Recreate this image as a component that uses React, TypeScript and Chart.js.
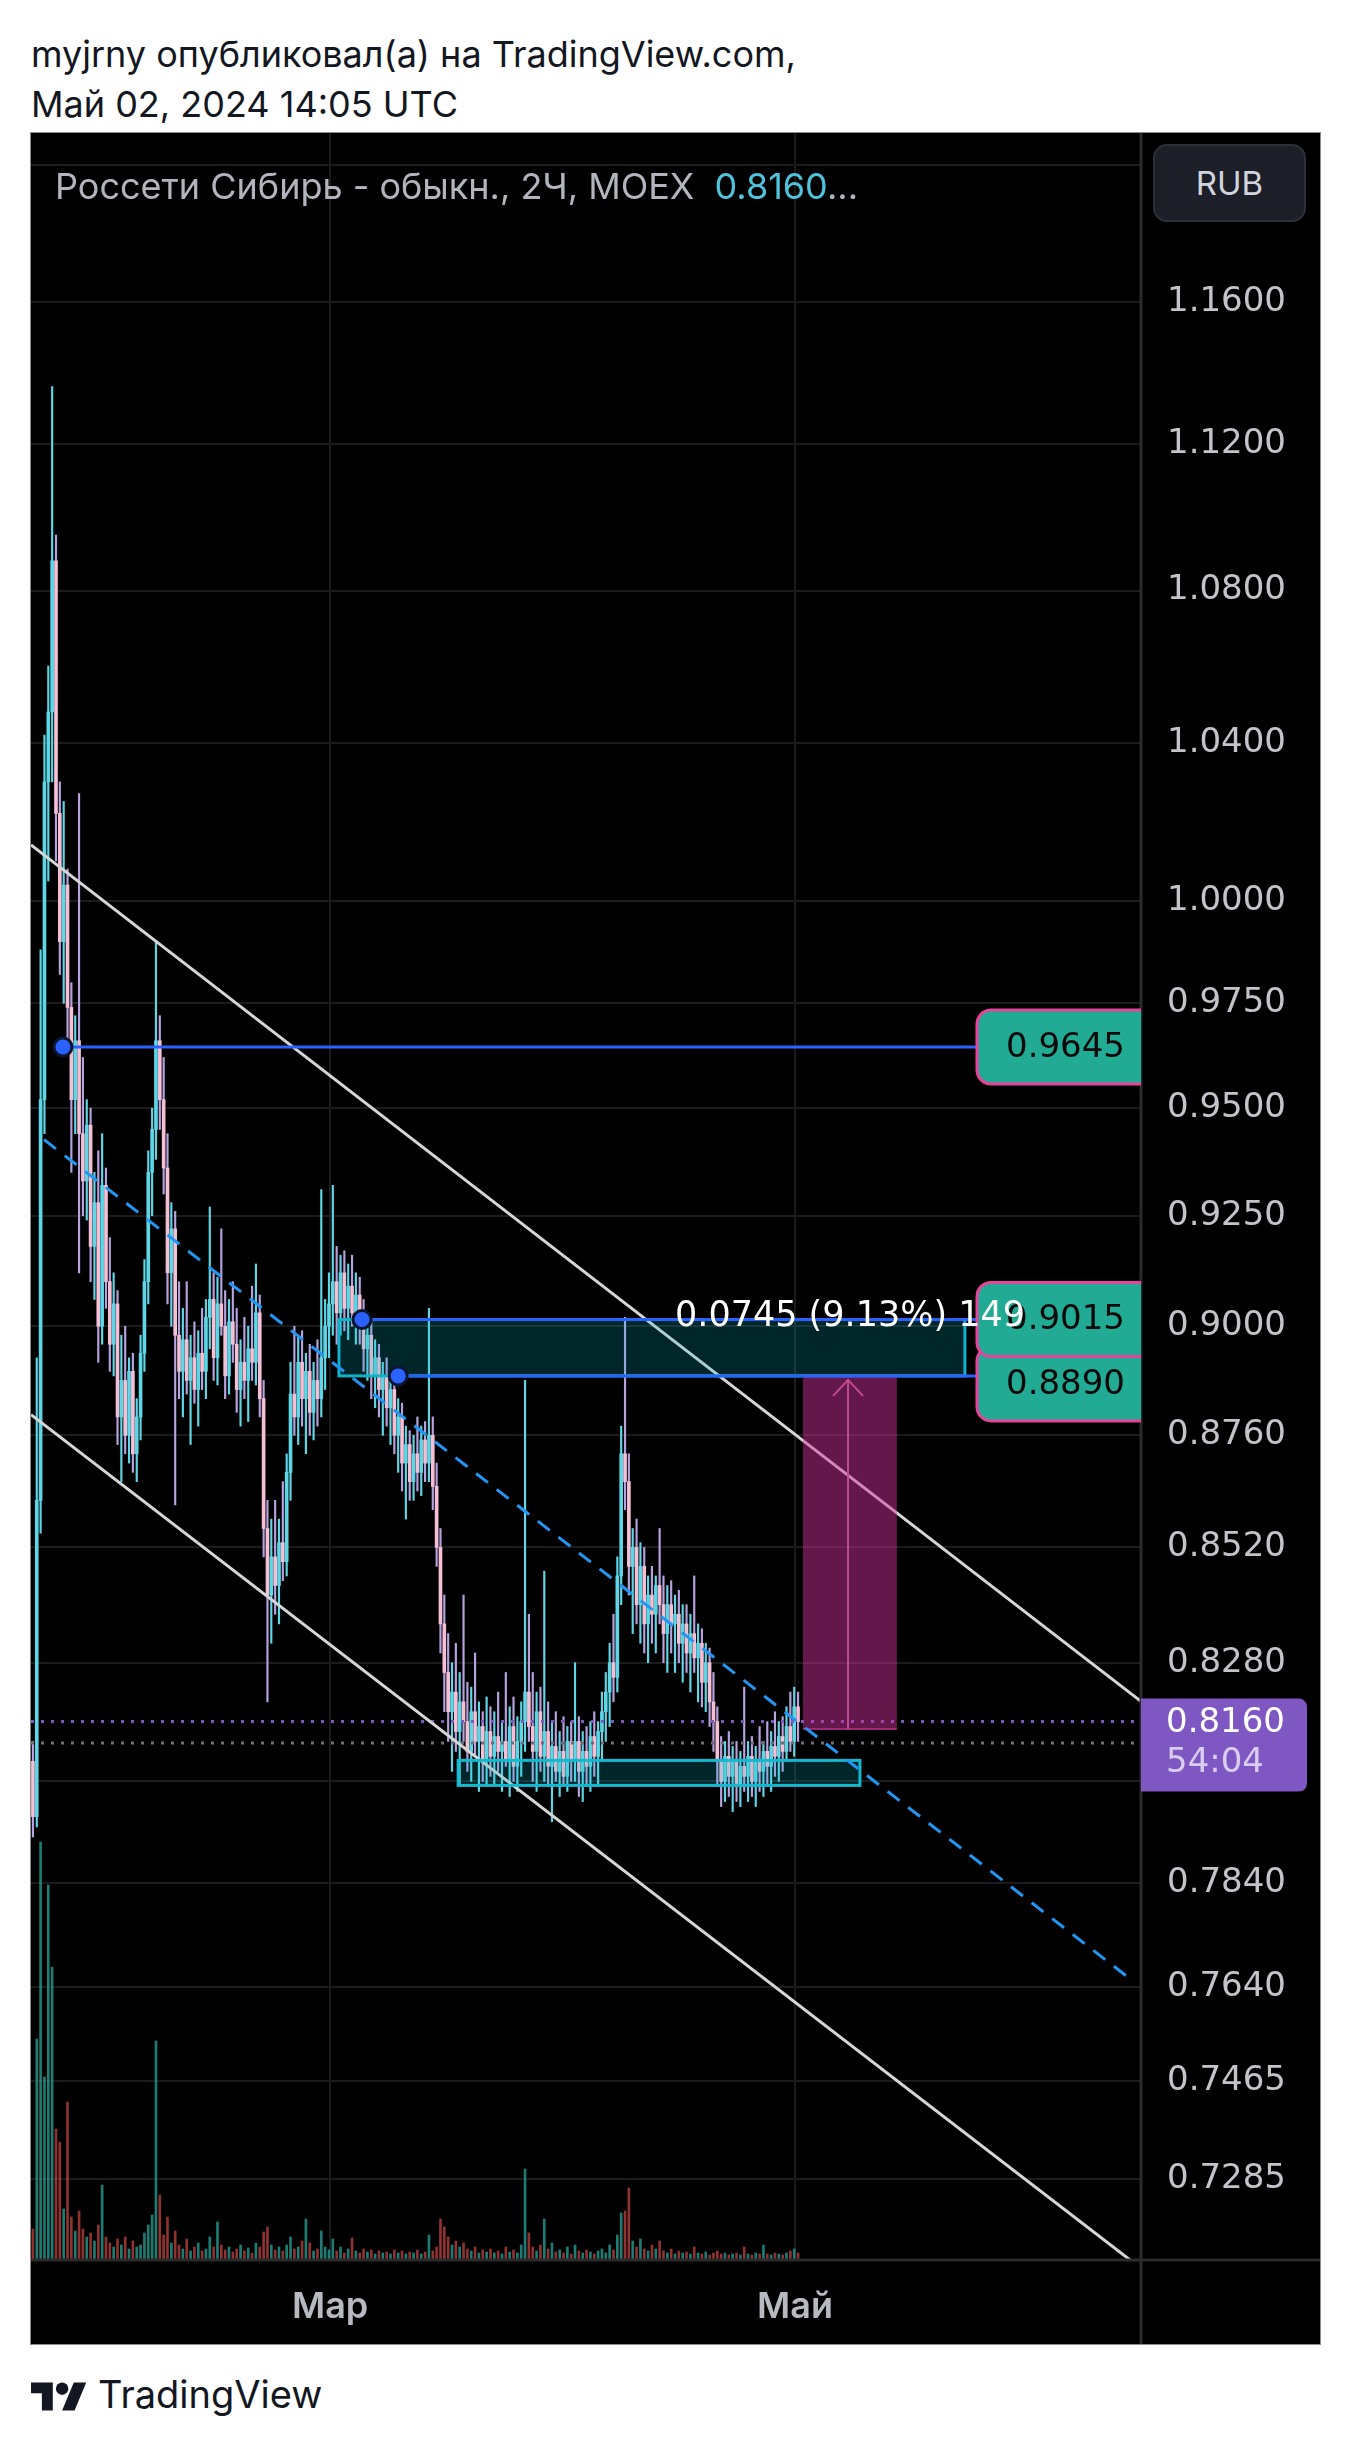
import React, { useEffect, useRef } from 'react';
import { Chart, registerables } from 'chart.js';

Chart.register(...registerables);

// ---- candle data (2H bars, index = bar number) ----
const OPEN = [
  0.808, 0.797, 0.862, 0.952, 1.030, 1.048, 1.088, 1.022, 0.990, 1.004,
  0.974, 0.952, 0.966, 0.944, 0.933, 0.946, 0.918, 0.928, 0.900, 0.932,
  0.910, 0.896, 0.905, 0.880, 0.888, 0.876, 0.890, 0.872, 0.880, 0.894,
  0.910, 0.935, 0.945, 0.966, 0.952, 0.936, 0.912, 0.922, 0.898, 0.890,
  0.897, 0.888, 0.893, 0.886, 0.894, 0.890, 0.902, 0.906, 0.893, 0.905,
  0.900, 0.889, 0.901, 0.896, 0.886, 0.892, 0.888, 0.895, 0.892, 0.903,
  0.884, 0.856, 0.842, 0.850, 0.844, 0.853, 0.849, 0.868, 0.885, 0.880,
  0.892, 0.884, 0.890, 0.881, 0.888, 0.884, 0.893, 0.900, 0.905, 0.910,
  0.903, 0.912, 0.904, 0.909, 0.903, 0.907, 0.901, 0.895, 0.898, 0.889,
  0.893, 0.886, 0.889, 0.882, 0.886, 0.876, 0.880, 0.870, 0.874, 0.866,
  0.872, 0.868, 0.875, 0.870, 0.876, 0.865, 0.852, 0.836, 0.826, 0.818,
  0.822, 0.814, 0.820, 0.816, 0.810, 0.818, 0.812, 0.815, 0.808, 0.814,
  0.809, 0.813, 0.810, 0.812, 0.808, 0.815, 0.807, 0.812, 0.816, 0.822,
  0.815, 0.810, 0.818, 0.809, 0.814, 0.807, 0.811, 0.806, 0.810, 0.805,
  0.812, 0.808, 0.812, 0.806, 0.810, 0.807, 0.813, 0.809, 0.814, 0.818,
  0.822, 0.828, 0.825, 0.846, 0.872, 0.866, 0.848, 0.852, 0.840, 0.848,
  0.836, 0.842, 0.838, 0.844, 0.840, 0.834, 0.840, 0.836, 0.838, 0.832,
  0.836, 0.830, 0.834, 0.829, 0.832, 0.824, 0.828, 0.820, 0.816, 0.808,
  0.804, 0.809, 0.805, 0.808, 0.803, 0.807, 0.805, 0.809, 0.804, 0.808,
  0.806, 0.810, 0.807, 0.811, 0.809, 0.813, 0.810, 0.815, 0.812, 0.819,
];
const HIGH = [
  0.812, 0.893, 0.988, 1.042, 1.060, 1.136, 1.095, 1.030, 1.025, 1.008,
  0.980, 0.972, 1.027, 0.962, 0.952, 0.950, 0.935, 0.940, 0.944, 0.936,
  0.920, 0.912, 0.908, 0.898, 0.900, 0.893, 0.894, 0.884, 0.898, 0.915,
  0.940, 0.950, 0.990, 0.972, 0.962, 0.944, 0.928, 0.926, 0.910, 0.904,
  0.910, 0.898, 0.901, 0.899, 0.904, 0.906, 0.927, 0.912, 0.911, 0.922,
  0.908, 0.906, 0.910, 0.904, 0.897, 0.902, 0.900, 0.909, 0.914, 0.907,
  0.888, 0.862, 0.858, 0.862, 0.858, 0.866, 0.872, 0.892, 0.900, 0.898,
  0.899, 0.894, 0.896, 0.892, 0.897, 0.931, 0.906, 0.912, 0.932, 0.918,
  0.916, 0.917, 0.914, 0.916, 0.912, 0.911, 0.906, 0.903, 0.901, 0.897,
  0.896, 0.892, 0.893, 0.890, 0.889, 0.884, 0.883, 0.878, 0.877, 0.876,
  0.880, 0.878, 0.879, 0.904, 0.880, 0.870, 0.856, 0.842, 0.834, 0.828,
  0.832, 0.826, 0.842, 0.824, 0.823, 0.830, 0.820, 0.818, 0.821, 0.819,
  0.818, 0.822, 0.816, 0.826, 0.819, 0.821, 0.817, 0.820, 0.888, 0.838,
  0.826, 0.822, 0.823, 0.847, 0.820, 0.816, 0.818, 0.814, 0.817, 0.815,
  0.816, 0.828, 0.817, 0.814, 0.815, 0.816, 0.818, 0.816, 0.822, 0.826,
  0.832, 0.838, 0.850, 0.878, 0.902, 0.872, 0.856, 0.858, 0.853, 0.852,
  0.846, 0.848, 0.846, 0.856, 0.846, 0.844, 0.845, 0.842, 0.843, 0.840,
  0.840, 0.838, 0.846, 0.836, 0.835, 0.832, 0.831, 0.826, 0.819, 0.813,
  0.812, 0.814, 0.811, 0.812, 0.810, 0.823, 0.812, 0.813, 0.811, 0.815,
  0.812, 0.816, 0.814, 0.818, 0.816, 0.817, 0.819, 0.822, 0.823, 0.822,
];
const LOW = [
  0.793, 0.795, 0.855, 0.944, 1.005, 1.030, 1.010, 0.982, 0.975, 0.966,
  0.935, 0.944, 0.912, 0.925, 0.924, 0.910, 0.906, 0.892, 0.896, 0.904,
  0.890, 0.889, 0.874, 0.866, 0.872, 0.870, 0.868, 0.866, 0.875, 0.890,
  0.905, 0.925, 0.938, 0.945, 0.930, 0.905, 0.900, 0.861, 0.884, 0.880,
  0.885, 0.874, 0.883, 0.878, 0.886, 0.884, 0.895, 0.888, 0.887, 0.898,
  0.884, 0.885, 0.892, 0.881, 0.878, 0.884, 0.879, 0.888, 0.887, 0.880,
  0.850, 0.820, 0.832, 0.838, 0.836, 0.845, 0.846, 0.862, 0.876, 0.874,
  0.878, 0.872, 0.876, 0.875, 0.878, 0.880, 0.886, 0.893, 0.898, 0.896,
  0.898, 0.899, 0.897, 0.900, 0.896, 0.896, 0.890, 0.888, 0.884, 0.882,
  0.880, 0.876, 0.878, 0.874, 0.872, 0.868, 0.864, 0.858, 0.862, 0.862,
  0.864, 0.863, 0.866, 0.866, 0.860, 0.848, 0.830, 0.818, 0.812, 0.806,
  0.810, 0.803, 0.812, 0.806, 0.804, 0.809, 0.802, 0.804, 0.803, 0.805,
  0.803, 0.806, 0.802, 0.807, 0.801, 0.804, 0.802, 0.805, 0.810, 0.812,
  0.804, 0.802, 0.806, 0.804, 0.803, 0.796, 0.804, 0.801, 0.803, 0.802,
  0.804, 0.804, 0.801, 0.800, 0.803, 0.802, 0.805, 0.803, 0.808, 0.812,
  0.815, 0.820, 0.822, 0.840, 0.860, 0.842, 0.834, 0.836, 0.832, 0.830,
  0.828, 0.832, 0.830, 0.836, 0.828, 0.826, 0.830, 0.826, 0.828, 0.824,
  0.826, 0.822, 0.826, 0.820, 0.819, 0.818, 0.815, 0.810, 0.803, 0.799,
  0.800, 0.801, 0.798, 0.800, 0.799, 0.802, 0.800, 0.801, 0.799, 0.802,
  0.801, 0.803, 0.802, 0.805, 0.804, 0.806, 0.808, 0.810, 0.809, 0.812,
];
const CLOSE = [
  0.797, 0.862, 0.952, 1.030, 1.048, 1.088, 1.022, 0.990, 1.004, 0.974,
  0.952, 0.966, 0.944, 0.933, 0.946, 0.918, 0.928, 0.900, 0.932, 0.910,
  0.896, 0.905, 0.880, 0.888, 0.876, 0.890, 0.872, 0.880, 0.894, 0.910,
  0.935, 0.945, 0.966, 0.952, 0.936, 0.912, 0.922, 0.898, 0.890, 0.897,
  0.888, 0.893, 0.886, 0.894, 0.890, 0.902, 0.906, 0.893, 0.905, 0.900,
  0.889, 0.901, 0.896, 0.886, 0.892, 0.888, 0.895, 0.892, 0.903, 0.884,
  0.856, 0.842, 0.850, 0.844, 0.853, 0.849, 0.868, 0.885, 0.880, 0.892,
  0.884, 0.890, 0.881, 0.888, 0.884, 0.893, 0.900, 0.905, 0.910, 0.903,
  0.912, 0.904, 0.909, 0.903, 0.907, 0.901, 0.895, 0.898, 0.889, 0.893,
  0.886, 0.889, 0.882, 0.886, 0.876, 0.880, 0.870, 0.874, 0.866, 0.872,
  0.868, 0.875, 0.870, 0.876, 0.865, 0.852, 0.836, 0.826, 0.818, 0.822,
  0.814, 0.820, 0.816, 0.810, 0.818, 0.812, 0.815, 0.808, 0.814, 0.809,
  0.813, 0.810, 0.812, 0.808, 0.815, 0.807, 0.812, 0.816, 0.822, 0.815,
  0.810, 0.818, 0.809, 0.814, 0.807, 0.811, 0.806, 0.810, 0.805, 0.812,
  0.808, 0.812, 0.806, 0.810, 0.807, 0.813, 0.809, 0.814, 0.818, 0.822,
  0.828, 0.825, 0.846, 0.872, 0.866, 0.848, 0.852, 0.840, 0.848, 0.836,
  0.842, 0.838, 0.844, 0.840, 0.834, 0.840, 0.836, 0.838, 0.832, 0.836,
  0.830, 0.834, 0.829, 0.832, 0.824, 0.828, 0.820, 0.816, 0.808, 0.804,
  0.809, 0.805, 0.808, 0.803, 0.807, 0.805, 0.809, 0.804, 0.808, 0.806,
  0.810, 0.807, 0.811, 0.809, 0.813, 0.810, 0.815, 0.812, 0.819, 0.816,
];
const VOLUME = [
  30, 220, 417, 182, 374, 292, 130, 117, 50, 157,
  42, 28, 48, 30, 22, 26, 18, 34, 74, 22,
  16, 12, 20, 14, 22, 10, 18, 12, 14, 26,
  34, 44, 218, 64, 24, 42, 16, 28, 14, 10,
  20, 8, 12, 16, 8, 10, 22, 12, 37, 14,
  9, 12, 7, 10, 14, 8, 11, 6, 16, 12,
  27, 32, 14, 9, 12, 8, 14, 22, 10, 12,
  18, 40, 16, 8, 10, 28, 12, 9, 20, 8,
  12, 6, 10, 21, 8, 6, 10, 7, 9, 5,
  8, 6, 7, 5, 9, 6, 8, 5, 7, 6,
  9, 5, 7, 24, 8, 12, 40, 32, 22, 14,
  18, 12, 16, 10, 8, 12, 6, 9, 7, 10,
  6, 8, 5, 12, 7, 9, 6, 14, 90, 26,
  12, 8, 14, 40, 10, 16, 7, 9, 6, 12,
  5, 14, 8, 6, 9, 7, 5, 8, 10, 6,
  14, 9, 24, 46, 48, 71, 18, 12, 20, 10,
  8, 14, 10, 18, 8, 6, 10, 5, 8, 6,
  7, 5, 12, 6, 5, 7, 4, 6, 8, 5,
  6, 4, 5, 6, 4, 12, 5, 4, 6, 5,
  14, 5, 4, 6, 5, 4, 6, 8, 10, 6,
];

// ---- axes ----
const PRICE_TICKS = [1.2, 1.16, 1.12, 1.08, 1.04, 1.0, 0.975, 0.95, 0.925, 0.9, 0.876, 0.852, 0.828, 0.804, 0.784, 0.764, 0.7465, 0.7285];
const TIME_TICKS = [77.3, 198.2];
const TIME_LABELS = ['Мар', 'Май'];
const Y_MIN = 0.71425;
const Y_MAX = 1.2097;
const X_MIN = -0.5;
const X_MAX = 288.2;
const VOL_MAX = 2126;

// ---- drawings (bar index, price) ----
const CHANNEL_UPPER = [[-0.5, 1.01405], [288.2, 0.8201]];
const CHANNEL_LOWER = [[-0.5, 0.8805], [288.2, 0.7126]];
const TREND_DASHED = [[2.9, 0.9426], [286.1, 0.7652]];
const LEVELS = [
  { x: 7.8, price: 0.9645, label: '0.9645', shift: 0 },
  { x: 85.6, price: 0.9015, label: '0.9015', shift: 0 },
  { x: 95.0, price: 0.889, label: '0.8890', shift: 8 },
];
const RANGE_BOX = { x1: 79.6, x2: 242.4, top: 0.9015, bottom: 0.889 };
const SUPPORT_BOX = { x1: 110.6, x2: 215.1, top: 0.8082, bottom: 0.8032 };
const TARGET_BOX = { x1: 200.3, x2: 224.7, top: 0.889, bottom: 0.8145, arrowX: 212 };
const MEASURE = { x: 167, price: 0.9015, text: '0.0745 (9.13%) 149' };
const LAST_PRICE = 0.816;
const LAST_PRICE_TEXT = '0.8160';
const COUNTDOWN = '54:04';
const PREV_CLOSE = 0.8117;

const UP = '#5dd6e6';
const DOWN = '#f5bfd6';
const DOWN_WICK = '#b7a2e0';
const VOL_UP = 'rgba(38,166,154,0.75)';
const VOL_DOWN = 'rgba(239,83,80,0.6)';
const AXIS_FONT = '"DejaVu Sans"';

export default function App() {
  const canvasRef = useRef<HTMLCanvasElement | null>(null);

  useEffect(() => {
    const idx = CLOSE.map((_, i) => i);
    const isUp = idx.map((i) => CLOSE[i] >= OPEN[i]);

    const leftRound = (ctx: any, x1: number, y1: number, x2: number, y2: number, r: number) => {
      ctx.beginPath();
      ctx.moveTo(x2, y1);
      ctx.lineTo(x1 + r, y1);
      ctx.arcTo(x1, y1, x1, y1 + r, r);
      ctx.lineTo(x1, y2 - r);
      ctx.arcTo(x1, y2, x1 + r, y2, r);
      ctx.lineTo(x2, y2);
    };

    const drawings = {
      id: 'drawings',
      afterDatasetsDraw(chart: any) {
        const { ctx, chartArea: a } = chart;
        const X = (v: number) => chart.scales.x.getPixelForValue(v);
        const Y = (v: number) => chart.scales.y.getPixelForValue(v);
        const line = (x1: number, y1: number, x2: number, y2: number, color: string, w: number, dash: number[] = []) => {
          ctx.beginPath();
          ctx.setLineDash(dash);
          ctx.strokeStyle = color;
          ctx.lineWidth = w;
          ctx.moveTo(x1, y1);
          ctx.lineTo(x2, y2);
          ctx.stroke();
          ctx.setLineDash([]);
        };
        ctx.save();
        ctx.beginPath();
        ctx.rect(a.left, a.top, a.right - a.left, a.bottom - a.top);
        ctx.clip();

        line(a.left, Y(PREV_CLOSE), a.right, Y(PREV_CLOSE), '#6b6e78', 3, [3, 7]);
        line(a.left, Y(LAST_PRICE), a.right, Y(LAST_PRICE), '#7e57c2', 3, [3, 7]);

        for (const seg of [CHANNEL_UPPER, CHANNEL_LOWER]) {
          line(X(seg[0][0]), Y(seg[0][1]), X(seg[1][0]), Y(seg[1][1]), '#d6d6d6', 3);
        }

        const rect = (b: any, fill: string, stroke: string | null) => {
          const x1 = X(b.x1), x2 = X(b.x2), y1 = Y(b.top), y2 = Y(b.bottom);
          ctx.fillStyle = fill;
          ctx.fillRect(x1, y1, x2 - x1, y2 - y1);
          if (stroke) {
            ctx.strokeStyle = stroke;
            ctx.lineWidth = 3;
            ctx.strokeRect(x1, y1, x2 - x1, y2 - y1);
          }
        };
        rect(RANGE_BOX, 'rgba(0,188,212,0.2)', '#0fb3c9');
        rect(SUPPORT_BOX, 'rgba(0,188,212,0.2)', '#12b9d0');
        rect(TARGET_BOX, 'rgba(208,48,156,0.48)', null);
        {
          const ax = X(TARGET_BOX.arrowX), yt = Y(TARGET_BOX.top), yb = Y(TARGET_BOX.bottom);
          line(X(TARGET_BOX.x1), yb, X(TARGET_BOX.x2), yb, '#9c2a76', 2);
          line(ax, yb, ax, yt + 3, '#c24a92', 2);
          ctx.beginPath();
          ctx.strokeStyle = '#c24a92';
          ctx.lineWidth = 2;
          ctx.moveTo(ax - 15, yt + 20);
          ctx.lineTo(ax, yt + 4);
          ctx.lineTo(ax + 15, yt + 20);
          ctx.stroke();
        }

        line(X(TREND_DASHED[0][0]), Y(TREND_DASHED[0][1]), X(TREND_DASHED[1][0]), Y(TREND_DASHED[1][1]), '#2196f3', 3, [15, 11]);

        for (const l of LEVELS) line(X(l.x), Y(l.price), a.right, Y(l.price), '#2962ff', 3);
        for (const l of LEVELS) {
          ctx.beginPath();
          ctx.arc(X(l.x), Y(l.price), 9, 0, Math.PI * 2);
          ctx.fillStyle = '#2962ff';
          ctx.fill();
          ctx.lineWidth = 3;
          ctx.strokeStyle = '#0c1631';
          ctx.stroke();
        }
        ctx.restore();
      },
      afterDraw(chart: any) {
        const { ctx, chartArea: a, width, height } = chart;
        const X = (v: number) => chart.scales.x.getPixelForValue(v);
        const Y = (v: number) => chart.scales.y.getPixelForValue(v);
        ctx.save();
        // pane separators
        ctx.strokeStyle = '#2b2b2b';
        ctx.lineWidth = 3;
        ctx.beginPath();
        ctx.moveTo(a.right, 0);
        ctx.lineTo(a.right, height);
        ctx.moveTo(0, a.bottom + 1);
        ctx.lineTo(width, a.bottom + 1);
        ctx.stroke();

        // level labels
        const order = [LEVELS[2], LEVELS[1], LEVELS[0]];
        for (const l of order) {
          const cy = Y(l.price) + l.shift;
          const x1 = a.right - 164, x2 = a.right, y1 = cy - 37, y2 = cy + 37;
          leftRound(ctx, x1, y1, x2, y2, 14);
          ctx.closePath();
          ctx.fillStyle = '#22ab94';
          ctx.fill();
          leftRound(ctx, x1, y1, x2, y2, 14);
          ctx.strokeStyle = '#e6449b';
          ctx.lineWidth = 3;
          ctx.stroke();
          ctx.fillStyle = '#0a0a0a';
          ctx.font = `34px ${AXIS_FONT}`;
          ctx.textAlign = 'right';
          ctx.textBaseline = 'middle';
          ctx.fillText(l.label, x2 - 16, cy + 1);
        }

        // measure text
        ctx.fillStyle = '#ffffff';
        ctx.font = `35px ${AXIS_FONT}`;
        ctx.textAlign = 'left';
        ctx.textBaseline = 'alphabetic';
        ctx.fillText(MEASURE.text, X(MEASURE.x), Y(MEASURE.price) + 6);

        // last price label
        {
          const cy = Y(LAST_PRICE);
          const x1 = a.right, x2 = a.right + 166, y1 = cy - 23, y2 = cy + 70;
          ctx.beginPath();
          ctx.moveTo(x1, y1);
          ctx.lineTo(x2 - 8, y1);
          ctx.arcTo(x2, y1, x2, y1 + 8, 8);
          ctx.lineTo(x2, y2 - 8);
          ctx.arcTo(x2, y2, x2 - 8, y2, 8);
          ctx.lineTo(x1, y2);
          ctx.closePath();
          ctx.fillStyle = '#7e57c2';
          ctx.fill();
          ctx.font = `34px ${AXIS_FONT}`;
          ctx.textAlign = 'left';
          ctx.textBaseline = 'middle';
          ctx.fillStyle = '#ffffff';
          ctx.fillText(LAST_PRICE_TEXT, x1 + 25, cy + 2);
          ctx.fillStyle = '#d9cdf2';
          ctx.fillText(COUNTDOWN, x1 + 25, cy + 42);
        }
        ctx.restore();
      },
    };

    const chart = new Chart(canvasRef.current as HTMLCanvasElement, {
      type: 'bar',
      data: {
        datasets: [
          {
            label: 'bodies',
            data: idx.map((i) => ({ x: i, y: [Math.min(OPEN[i], CLOSE[i]), Math.max(OPEN[i], CLOSE[i])] })) as any,
            backgroundColor: idx.map((i) => (isUp[i] ? UP : DOWN)),
            barThickness: 3,
            minBarLength: 1,
            grouped: false,
            order: 1,
            xAxisID: 'x',
            yAxisID: 'y',
          },
          {
            label: 'wicks',
            data: idx.map((i) => ({ x: i, y: [LOW[i], HIGH[i]] })) as any,
            backgroundColor: idx.map((i) => (isUp[i] ? UP : DOWN_WICK)),
            barThickness: 1.5,
            grouped: false,
            order: 2,
            xAxisID: 'x',
            yAxisID: 'y',
          },
          {
            label: 'volume',
            data: idx.map((i) => ({ x: i, y: VOLUME[i] })) as any,
            backgroundColor: idx.map((i) => (isUp[i] ? VOL_UP : VOL_DOWN)),
            barThickness: 2,
            grouped: false,
            order: 3,
            xAxisID: 'x',
            yAxisID: 'yv',
          },
        ],
      },
      options: {
        responsive: false,
        animation: false,
        devicePixelRatio: 1,
        events: [],
        layout: { padding: 0 },
        plugins: { legend: { display: false }, tooltip: { enabled: false }, title: { display: false } },
        scales: {
          x: {
            type: 'linear',
            position: 'bottom',
            min: X_MIN,
            max: X_MAX,
            offset: false,
            afterBuildTicks: (s: any) => {
              s.ticks = TIME_TICKS.map((v) => ({ value: v }));
            },
            afterFit: (s: any) => {
              s.height = 85;
              s.paddingLeft = 0;
              s.paddingRight = 0;
            },
            ticks: {
              autoSkip: false,
              maxRotation: 0,
              minRotation: 0,
              padding: 27,
              color: '#b8bac2',
              font: { family: 'Inter', size: 36, weight: '600' },
              callback: (_v: any, i: number) => TIME_LABELS[i],
            },
            grid: { color: '#1b1b1b', lineWidth: 2, drawTicks: false, offset: false },
            border: { display: false },
          } as any,
          y: {
            type: 'logarithmic',
            position: 'right',
            min: Y_MIN,
            max: Y_MAX,
            afterBuildTicks: (s: any) => {
              s.ticks = PRICE_TICKS.map((v) => ({ value: v }));
            },
            afterFit: (s: any) => {
              s.width = 179;
              s.paddingTop = 0;
              s.paddingBottom = 0;
            },
            ticks: {
              autoSkip: false,
              padding: 26,
              color: '#c2c4ca',
              font: { family: AXIS_FONT, size: 34 },
              callback: (v: any) => Number(v).toFixed(4),
            },
            grid: { color: '#1b1b1b', lineWidth: 2, drawTicks: false },
            border: { display: false },
          } as any,
          yv: { type: 'linear', display: false, min: 0, max: VOL_MAX } as any,
        },
      },
      plugins: [drawings],
    } as any);
    return () => chart.destroy();
  }, []);

  const text: React.CSSProperties = { position: 'absolute', whiteSpace: 'nowrap' };
  return (
    <div style={{ position: 'absolute', left: 0, top: 0, width: 1350, height: 2451, background: '#ffffff', overflow: 'hidden', fontFamily: 'Inter, "Noto Sans", sans-serif' }}>
      <div style={{ ...text, left: 31, top: 32, fontSize: 36, lineHeight: '44px', color: '#131722' }}>myjrny опубликовал(а) на TradingView.com,</div>
      <div style={{ ...text, left: 31, top: 82, fontSize: 36, lineHeight: '44px', color: '#131722' }}>Май 02, 2024 14:05 UTC</div>
      <div style={{ position: 'absolute', left: 31, top: 133, width: 1289, height: 2211, background: '#000', boxShadow: '0 0 0 1px #8c8c8c' }}>
        <canvas ref={canvasRef} width={1289} height={2211} style={{ display: 'block', width: 1289, height: 2211 }} />
        <div style={{ ...text, left: 24, top: 31, fontSize: 36, lineHeight: '44px', color: '#b2b5be' }}>
          Россети Сибирь - обыкн., 2Ч, MOEX <span style={{ color: '#4fc3dc', marginLeft: 10 }}>0.8160</span>...
        </div>
        <div style={{ position: 'absolute', left: 1122, top: 11, width: 153, height: 78, boxSizing: 'border-box', background: '#1c1f27', border: '2px solid #2c3039', borderRadius: 14, color: '#d1d4dc', fontSize: 33, display: 'flex', alignItems: 'center', justifyContent: 'center' }}>RUB</div>
      </div>
      <svg width={56} height={44} viewBox="0 0 36 28" style={{ position: 'absolute', left: 31, top: 2376 }}>
        <path d="M14 22H7V11H0V4h14v18zM28 22h-8l7.5-18h8L28 22z" fill="#131722" />
        <circle cx={20} cy={8} r={4} fill="#131722" />
      </svg>
      <div style={{ ...text, left: 98, top: 2371, fontSize: 38, lineHeight: '46px', color: '#131722' }}>TradingView</div>
    </div>
  );
}
